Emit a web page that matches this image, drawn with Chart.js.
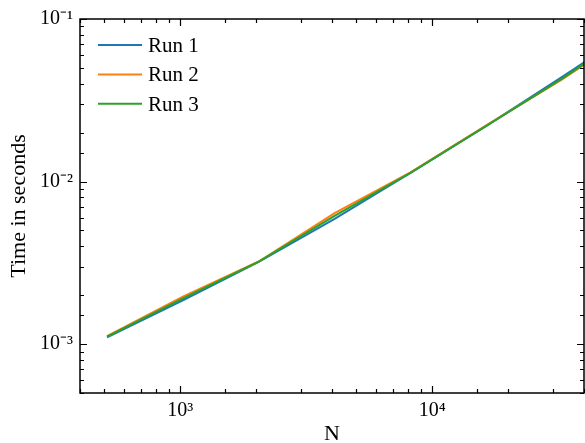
<!DOCTYPE html>
<html>
<head>
<meta charset="utf-8">
<script src="https://cdn.jsdelivr.net/npm/chart.js@4/dist/chart.umd.min.js"></script>
<style>
  html, body { margin: 0; padding: 0; background: #fff; }
  #wrap { width: 585px; height: 443px; }
</style>
</head>
<body>
<div id="wrap"><canvas id="grafico" width="585" height="443"></canvas></div>
<script>
// Datos del gráfico
const nValues = [512, 1024, 2048, 4096, 8192, 16384, 32768, 65536];
const run1 = [1.10e-3, 1.86e-3, 3.20e-3, 5.9e-3, 1.13e-2, 2.20e-2, 4.40e-2, 9.0e-2];
const run2 = [1.12e-3, 1.96e-3, 3.22e-3, 6.4e-3, 1.14e-2, 2.22e-2, 4.25e-2, 8.7e-2];
const run3 = [1.11e-3, 1.91e-3, 3.22e-3, 6.15e-3, 1.13e-2, 2.20e-2, 4.30e-2, 8.8e-2];
const seriesNames = ['Run 1', 'Run 2', 'Run 3'];
const seriesColors = ['#1f77b4', '#ff7f0e', '#2ca02c'];
const xLimits = [400, 40000];
const yLimits = [5e-4, 1e-1];

const fuente = 'Liberation Serif';
const supers = { '-': '\u207B', '0': '\u2070', '1': '\u00B9', '2': '\u00B2', '3': '\u00B3', '4': '\u2074', '5': '\u2075', '6': '\u2076', '7': '\u2077', '8': '\u2078', '9': '\u2079' };

function esPotencia(v) {
    const l = Math.log10(v);
    return Math.abs(l - Math.round(l)) < 1e-9;
}

// Etiqueta tipo 10^n
function etiqueta(v) {
    if (!esPotencia(v)) return '';
    const exp = String(Math.round(Math.log10(v)));
    return '10' + exp.split('').map(c => supers[c]).join('');
}

function puntos(valores) {
    return nValues.map((n, i) => ({ x: n, y: valores[i] }));
}

// Marco y ticks hacia dentro en los cuatro lados
const marcoPlugin = {
    id: 'marco',
    afterDatasetsDraw(chart) {
        const { ctx, chartArea: a, scales } = chart;
        ctx.save();
        ctx.strokeStyle = '#000';
        ctx.lineWidth = 1.2;
        scales.x.ticks.forEach(t => {
            const px = Math.round(scales.x.getPixelForValue(t.value)) + 0.5;
            const len = esPotencia(t.value) ? 7 : 4;
            ctx.beginPath();
            ctx.moveTo(px, a.bottom); ctx.lineTo(px, a.bottom - len);
            ctx.moveTo(px, a.top); ctx.lineTo(px, a.top + len);
            ctx.stroke();
        });
        scales.y.ticks.forEach(t => {
            const py = Math.round(scales.y.getPixelForValue(t.value)) + 0.5;
            const len = esPotencia(t.value) ? 7 : 4;
            ctx.beginPath();
            ctx.moveTo(a.left, py); ctx.lineTo(a.left + len, py);
            ctx.moveTo(a.right, py); ctx.lineTo(a.right - len, py);
            ctx.stroke();
        });
        ctx.lineWidth = 1.5;
        ctx.strokeRect(a.left, a.top, a.right - a.left, a.bottom - a.top);
        ctx.restore();
    }
};

// Leyenda dentro del área del gráfico
const leyendaPlugin = {
    id: 'leyenda',
    afterDraw(chart) {
        const { ctx, chartArea: a } = chart;
        ctx.save();
        ctx.font = '21px "' + fuente + '"';
        ctx.textBaseline = 'alphabetic';
        ctx.fillStyle = '#000';
        chart.data.datasets.forEach((ds, i) => {
            const y = a.top + 26 + i * 29.4;
            ctx.strokeStyle = ds.borderColor;
            ctx.lineWidth = 2;
            ctx.beginPath();
            ctx.moveTo(a.left + 18, y);
            ctx.lineTo(a.left + 62, y);
            ctx.stroke();
            ctx.fillText(ds.label, a.left + 68, y + 7);
        });
        ctx.restore();
    }
};

const ctx = document.getElementById('grafico').getContext('2d');
const chart = new Chart(ctx, {
    type: 'line',
    data: {
        datasets: [run1, run2, run3].map((vals, i) => ({
            label: seriesNames[i],
            data: puntos(vals),
            borderColor: seriesColors[i],
            backgroundColor: seriesColors[i],
            borderWidth: 2,
            pointRadius: 0,
            tension: 0,
            fill: false,
            order: 3 - i
        }))
    },
    options: {
        responsive: false,
        animation: false,
        devicePixelRatio: 1,
        layout: { padding: { top: 19, right: 1, left: 0, bottom: 0 } },
        plugins: {
            legend: { display: false },
            tooltip: { enabled: false }
        },
        scales: {
            x: {
                type: 'logarithmic',
                position: 'bottom',
                min: xLimits[0],
                max: xLimits[1],
                afterFit: s => { s.height = 50; s.paddingLeft = 0; s.paddingRight = 0; },
                grid: { display: false, drawTicks: false },
                border: { display: false },
                ticks: {
                    autoSkip: false,
                    maxRotation: 0,
                    padding: 6,
                    color: '#000',
                    font: { family: fuente, size: 20 },
                    callback: v => etiqueta(v)
                },
                title: {
                    display: true,
                    text: 'N',
                    color: '#000',
                    font: { family: fuente, size: 22, lineHeight: 0.77 },
                    padding: { top: 0, bottom: 0 }
                }
            },
            y: {
                type: 'logarithmic',
                position: 'left',
                min: yLimits[0],
                max: yLimits[1],
                afterFit: s => { s.width = 80; },
                grid: { display: false, drawTicks: false },
                border: { display: false },
                ticks: {
                    autoSkip: false,
                    padding: 7,
                    color: '#000',
                    font: { family: fuente, size: 20 },
                    callback: v => etiqueta(v)
                },
                title: {
                    display: true,
                    text: 'Time in seconds',
                    color: '#000',
                    font: { family: fuente, size: 22, lineHeight: 1.2 },
                    padding: { top: 6, bottom: 0 }
                }
            }
        }
    },
    plugins: [marcoPlugin, leyendaPlugin]
});
</script>
</body>
</html>
